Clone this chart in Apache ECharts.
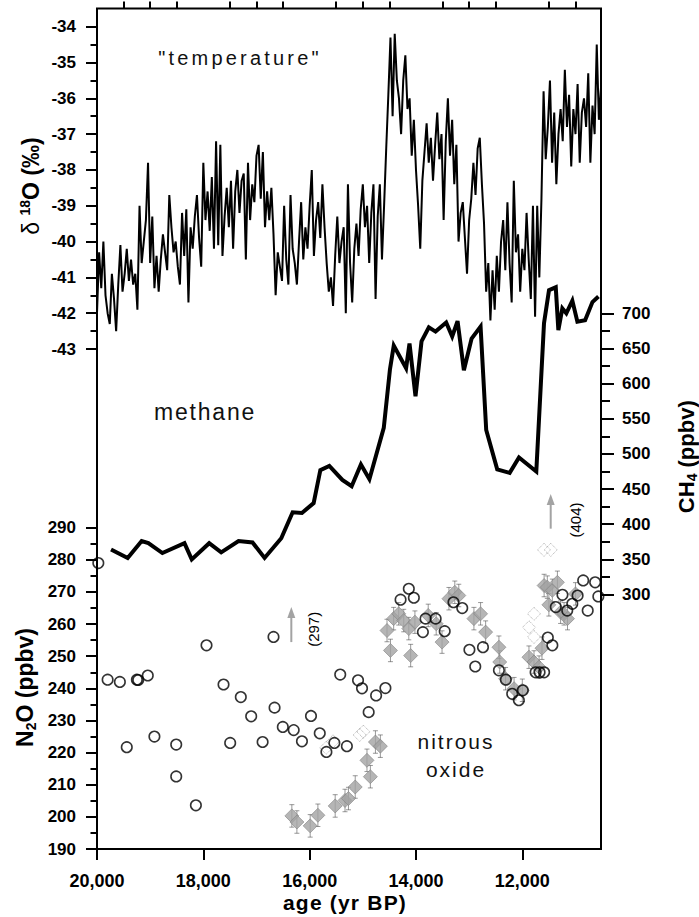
<!DOCTYPE html>
<html><head><meta charset="utf-8">
<script src="https://cdn.jsdelivr.net/npm/echarts@6/dist/echarts.min.js"></script>
<style>
html,body{margin:0;padding:0;background:#fff;}
#c{width:699px;height:917px;}
svg text[style*="lsT"]{letter-spacing:3.2px;}
svg text[style*="lsM"]{letter-spacing:1.8px;}
svg text[style*="lsN"]{letter-spacing:2px;}
svg text[style*="lsA"]{letter-spacing:1.2px;}
</style></head><body><div id="c"></div><script>
// ---- axis ranges / ticks ----
const AGE_MIN = 10520, AGE_MAX = 20000;
const ageMajorTicks = [12000, 14000, 16000, 18000, 20000];
const ageMinorTicks = [11000, 11500, 12500, 13000, 13500, 14500, 15000, 15500, 16500, 17000, 17500, 18500, 19000, 19500];
const d18oTicks = [-43, -42, -41, -40, -39, -38, -37, -36, -35, -34];
const d18oMinor = [-42.5, -41.5, -40.5, -39.5, -38.5, -37.5, -36.5, -35.5, -34.5];
const ch4Ticks = [300, 350, 400, 450, 500, 550, 600, 650, 700];
const ch4Minor = [325, 375, 425, 475, 525, 575, 625, 675];
const n2oTicks = [190, 200, 210, 220, 230, 240, 250, 260, 270, 280, 290];
const n2oMinor = [195, 205, 215, 225, 235, 245, 255, 265, 275, 285];

// ---- delta 18O ("temperature") [age, permil] ----
const d18o = [
[20000,-42.0],[19960,-40.3],[19920,-41.3],[19880,-40.0],[19840,-41.5],[19800,-42.0],[19760,-42.3],[19720,-40.9],
[19680,-41.6],[19640,-42.5],[19600,-41.2],[19560,-40.1],[19520,-41.4],[19480,-40.9],[19440,-40.2],[19400,-41.1],
[19360,-40.5],[19320,-41.2],[19280,-40.9],[19240,-41.9],[19200,-39.0],[19160,-40.6],[19120,-40.0],[19080,-39.4],
[19040,-37.8],[19000,-40.6],[18960,-39.3],[18920,-41.3],[18880,-40.4],[18840,-41.4],[18800,-40.5],[18760,-39.8],
[18720,-40.3],[18680,-40.8],[18640,-38.7],[18600,-39.6],[18560,-40.3],[18520,-40.0],[18480,-40.7],[18440,-41.2],
[18400,-39.2],[18360,-40.4],[18320,-39.1],[18280,-41.7],[18240,-39.6],[18200,-40.2],[18160,-39.3],[18120,-38.7],
[18080,-39.9],[18040,-40.7],[18000,-37.8],[17960,-39.4],[17920,-38.6],[17880,-39.7],[17840,-38.2],[17800,-40.2],
[17760,-37.2],[17720,-40.1],[17680,-37.3],[17640,-40.4],[17600,-39.3],[17560,-38.5],[17520,-39.6],[17480,-38.3],
[17440,-40.2],[17400,-38.6],[17360,-38.0],[17320,-39.2],[17280,-38.3],[17240,-38.1],[17200,-40.5],[17160,-37.8],
[17120,-39.4],[17080,-38.4],[17040,-38.9],[17000,-37.6],[16960,-37.3],[16920,-38.8],[16880,-37.5],[16840,-39.6],
[16800,-38.6],[16760,-39.4],[16720,-38.5],[16680,-39.8],[16640,-41.5],[16600,-40.3],[16560,-40.7],[16520,-41.1],
[16480,-39.0],[16440,-40.5],[16400,-41.2],[16360,-38.7],[16320,-40.2],[16280,-40.6],[16240,-41.2],[16200,-40.0],
[16160,-38.9],[16120,-40.5],[16080,-39.6],[16040,-40.2],[16000,-39.0],[15960,-38.0],[15920,-40.4],[15880,-39.4],
[15840,-38.9],[15800,-39.9],[15760,-38.4],[15720,-39.6],[15680,-40.6],[15640,-41.4],[15600,-41.0],[15560,-41.8],
[15520,-40.4],[15480,-39.3],[15440,-40.6],[15400,-40.0],[15360,-39.6],[15320,-42.0],[15280,-38.4],
[15240,-40.6],[15200,-41.7],[15160,-40.2],[15120,-39.5],[15080,-40.4],[15040,-39.1],[15000,-38.4],[14960,-39.6],
[14920,-39.0],[14880,-40.6],[14840,-39.2],[14800,-38.4],[14760,-41.6],[14720,-39.3],[14680,-38.4],[14640,-40.5],
[14600,-39.0],[14560,-37.4],[14520,-35.9],[14480,-34.3],[14440,-36.5],[14400,-34.2],[14360,-35.5],[14320,-36.0],
[14280,-37.0],[14240,-35.5],[14200,-34.8],[14160,-36.3],[14120,-36.0],[14080,-37.6],[14040,-36.6],[14000,-38.0],
[13960,-39.0],[13920,-40.2],[13880,-38.3],[13840,-37.5],[13800,-36.7],[13760,-37.8],[13720,-37.1],[13680,-38.3],
[13640,-37.3],[13600,-36.4],[13560,-37.7],[13520,-37.0],[13480,-39.4],[13440,-37.2],[13400,-36.0],[13360,-37.6],
[13320,-36.6],[13280,-38.4],[13240,-37.3],[13200,-40.0],[13160,-39.2],[13120,-38.9],[13080,-39.9],[13040,-40.9],
[13000,-39.4],[12960,-38.8],[12920,-37.8],[12880,-38.7],[12840,-37.4],[12800,-37.1],[12760,-38.4],[12720,-39.5],
[12680,-41.4],[12640,-40.6],[12600,-42.2],[12560,-40.8],[12520,-41.9],[12480,-40.4],[12440,-41.4],[12400,-40.0],
[12360,-39.4],[12320,-40.8],[12280,-38.9],[12240,-40.6],[12200,-41.7],[12160,-38.3],[12120,-40.3],[12080,-39.8],
[12040,-41.4],[12000,-40.2],[11960,-40.8],[11920,-39.2],[11880,-40.5],[11840,-41.6],[11800,-39.0],[11760,-42.1],
[11720,-39.0],[11680,-41.0],[11640,-38.8],[11600,-35.8],[11560,-37.7],[11520,-36.8],[11480,-35.5],[11440,-37.8],
[11400,-36.4],[11360,-38.4],[11320,-37.0],[11280,-36.3],[11240,-37.2],[11200,-35.2],[11160,-36.8],[11120,-35.9],
[11080,-37.9],[11040,-36.3],[11000,-37.0],[10960,-35.6],[10920,-37.8],[10880,-36.4],[10840,-36.0],[10800,-36.8],
[10760,-35.3],[10720,-37.8],[10680,-36.2],[10640,-37.0],[10600,-34.5],[10560,-36.6],[10520,-35.7]
];

// ---- methane [age, ppbv] ----
const ch4 = [
[19736,364],[19423,352],[19160,376],[19034,373],[18770,359],[18355,373],[18218,350],[17890,373],
[17664,360],[17338,376],[17074,374],[16848,352],[16534,380],[16320,417],[16145,416],[15925,430],
[15799,477],[15630,483],[15385,463],[15210,454],[15036,485],[14876,464],[14606,537],[14490,620],
[14418,654],[14186,622],[14122,657],[14009,582],[13896,660],[13758,680],[13632,674],[13432,687],
[13319,667],[13218,689],[13099,619],[12954,664],[12785,681],[12679,534],[12472,478],[12238,473],
[12063,495],[11737,475],[11592,686],[11498,733],[11371,737],[11322,676],[11247,707],[11172,700],
[11059,718],[10964,688],[10819,690],[10681,716],[10568,724]
];

// ---- nitrous oxide: open circles [age, ppbv] ----
const n2oCircles = [
[19975,279],[19800,242.7],[19570,242],[19440,221.7],[19250,242.7],[19225,242.6],[19045,244],[18920,225],
[18510,222.5],[18510,212.6],[18140,203.6],[17940,253.4],[17620,241.2],[17495,223],[17295,237.3],[17100,231.3],
[16885,223.3],[16680,256],[16660,234],[16505,228],[16300,227],[16145,223.5],[15975,231.4],[15810,226],
[15685,220.2],[15535,223],[15425,244.3],[15300,222],[15090,242.5],[15015,240],[14890,232.6],[14750,237.8],
[14575,240.1],[14290,267.6],[14135,271],[14040,268.2],[13870,257.5],[13820,261.7],[13630,261.7],[13460,257.8],
[13295,266.8],[13130,265],[12995,252],[12885,246.8],[12740,252.8],[12440,245.6],[12310,242.7],[12190,238.3],
[12065,236.3],[11990,239.4],[11750,245],[11675,245],[11590,245],[11520,255.8],[11435,253.4],[11370,265.3],
[11245,269.1],[11155,264.2],[11060,266.3],[10960,268.9],[10855,273.6],[10770,264.2],[10630,273],[10570,268.6]
];

// ---- nitrous oxide: filled grey diamonds [age, ppbv] with +/- error ----
const n2oDiamonds = [
[16335,200.3],[16240,198.4],[15990,197.2],[15845,200.5],[15520,203.4],[15335,205.1],[15270,205.7],[15143,209.3],
[14922,217.6],[14858,212.5],[14763,223.3],[14670,222],[14545,258],[14480,251.8],[14420,261.7],[14325,263.2],
[14230,261.1],[14135,258.6],[14100,250.2],[14020,260.6],[13770,262.7],[13620,260.1],[13510,254.4],[13380,267.9],
[13270,269.9],[13195,268.9],[12910,261.7],[12785,263.2],[12690,257.5],[12440,252.8],[12425,248.2],[12315,243],
[12155,239.9],[12000,239.4],[11875,249.7],[11780,248.2],[11685,246.6],[11630,252.5],[11590,272],[11530,271.5],
[11500,266],[11435,270.5],[11340,273],[11280,263.7],[11215,263.2],[11150,261.7],[11000,269.4]
];
const diamondErr = 3.5;

// ---- nitrous oxide: open grey diamonds [age, ppbv] ----
const n2oOpen = [
[15690,221.5],[15560,223.5],[15060,225.5],[14990,226.5],[11874,259],[11780,263.2],[11780,256],[11592,283.1],[11466,283.1]
];

// ---- off-scale arrows [age, from, to] ----
const arrows = [[16345,254.4,265.3],[11466,289.7,300.5]];
const arrowTexts = ['(297)', '(404)'];

const FONT = 'Arial';
const tickStyle = {color:'#000', width:2};

function xAxisBase(grid){
  return {type:'value', gridIndex:grid, min:AGE_MIN, max:AGE_MAX, inverse:true,
          axisLine:{show:false}, splitLine:{show:false}, axisTick:{show:false}, axisLabel:{show:false}};
}
function yAxis(grid, min, max, pos, ticks, len, labels){
  return {type:'value', gridIndex:grid, min:min, max:max, position:pos,
    axisLine:{show:false}, splitLine:{show:false},
    axisTick:{show:true, customValues:ticks, length:len, lineStyle:tickStyle},
    axisLabel: labels ? {show:true, customValues:ticks, margin:21, color:'#000', fontWeight:'bold', fontSize:17, fontFamily:FONT}
                      : {show:false}};
}

const chart = echarts.init(document.getElementById('c'), null, {renderer:'svg'});

const xMain = xAxisBase(0);
xMain.axisTick = {show:true, customValues:ageMajorTicks, length:11, lineStyle:tickStyle};
xMain.axisLabel = {show:true, customValues:ageMajorTicks, margin:23, color:'#000', fontWeight:'bold', fontSize:18, fontFamily:FONT,
  formatter: v => v.toLocaleString('en-US')};
const xMinor = xAxisBase(0);
xMinor.axisTick = {show:true, customValues:ageMinorTicks, length:7, lineStyle:tickStyle};

function renderErr(params, api){
  const x = api.value(0), v = api.value(1);
  const p1 = api.coord([x, v + diamondErr]);
  const p0 = api.coord([x, v - diamondErr]);
  const cap = 2.5, st = {stroke:'rgba(60,60,60,0.75)', lineWidth:0.7};
  return {type:'group', children:[
    {type:'line', shape:{x1:p0[0],y1:p0[1],x2:p1[0],y2:p1[1]}, style:st},
    {type:'line', shape:{x1:p0[0]-cap,y1:p0[1],x2:p0[0]+cap,y2:p0[1]}, style:st},
    {type:'line', shape:{x1:p1[0]-cap,y1:p1[1],x2:p1[0]+cap,y2:p1[1]}, style:st}
  ]};
}
function renderArrow(params, api){
  const x = api.value(0);
  const p0 = api.coord([x, api.value(1)]);
  const p1 = api.coord([x, api.value(2)]);
  const headH = 11, headW = 8;
  const col = '#a3a3a3';
  return {type:'group', children:[
    {type:'line', shape:{x1:p0[0], y1:p0[1], x2:p1[0], y2:p1[1] + headH - 1}, style:{stroke:col, lineWidth:2}},
    {type:'polygon', shape:{points:[[p1[0], p1[1]], [p1[0] - headW/2, p1[1] + headH], [p1[0] + headW/2, p1[1] + headH]]}, style:{fill:col}}
  ]};
}

const option = {
  animation:false,
  backgroundColor:'#fff',
  grid:[
    {left:97, right:98, top:8.5, bottom:68, show:true, borderColor:'#000', borderWidth:2, backgroundColor:'transparent'},
    {left:97, right:98, top:8.8, bottom:568},
    {left:97, right:98, top:313.3, bottom:322.5},
    {left:97, right:98, top:527.7, bottom:68}
  ],
  xAxis:[xMain, xMinor, xAxisBase(1), xAxisBase(2), xAxisBase(3)],
  yAxis:[
    {type:'value', gridIndex:0, min:0, max:1, show:false},
    yAxis(1, -43, -33.5, 'left', d18oTicks, 11, true),
    yAxis(1, -43, -33.5, 'left', d18oMinor, 6.5, false),
    yAxis(2, 300, 700, 'right', ch4Ticks, 13, true),
    yAxis(2, 300, 700, 'right', ch4Minor, 9, false),
    yAxis(3, 190, 290, 'left', n2oTicks, 11, true),
    yAxis(3, 190, 290, 'left', n2oMinor, 6.5, false)
  ],
  series:[
    {type:'line', name:'d18O', xAxisIndex:2, yAxisIndex:1, data:d18o, showSymbol:false, symbol:'none',
     lineStyle:{color:'#000', width:2}, clip:false, silent:true},
    {type:'line', name:'CH4', xAxisIndex:3, yAxisIndex:3, data:ch4, showSymbol:false, symbol:'none',
     lineStyle:{color:'#000', width:4, join:'miter'}, clip:false, silent:true},
    {type:'scatter', name:'N2O diamonds', xAxisIndex:4, yAxisIndex:5, data:n2oDiamonds, symbol:'diamond', symbolSize:14,
     itemStyle:{color:'#a3a3a3', borderColor:'#858585', borderWidth:0.8}, clip:false, silent:true},
    {type:'custom', name:'N2O error', xAxisIndex:4, yAxisIndex:5, data:n2oDiamonds, renderItem:renderErr, clip:false, silent:true},
    {type:'scatter', name:'N2O open diamonds', xAxisIndex:4, yAxisIndex:5, data:n2oOpen, symbol:'diamond', symbolSize:13,
     itemStyle:{color:'rgba(0,0,0,0)', borderColor:'#9a9a9a', borderWidth:1, borderType:'dotted'}, clip:false, silent:true},
    {type:'scatter', name:'N2O circles', xAxisIndex:4, yAxisIndex:5, data:n2oCircles, symbol:'circle', symbolSize:10.5,
     itemStyle:{color:'rgba(0,0,0,0)', borderColor:'#000', borderWidth:1.6}, clip:false, silent:true},
    {type:'custom', name:'arrows', xAxisIndex:4, yAxisIndex:5, data:arrows, renderItem:renderArrow,
     encode:{x:0, y:[1,2]}, clip:false, silent:true}
  ],
  graphic:[
    {type:'text', x:240, y:57.5, silent:true, style:{text:'"temperature"', fontSize:20, fontFamily:'Liberation Sans, lsT', fill:'#111', align:'center', verticalAlign:'middle'}},
    {type:'text', x:205, y:411.5, silent:true, style:{text:'methane', fontSize:23, fontFamily:'Liberation Sans, lsM', fill:'#111', align:'center', verticalAlign:'middle'}},
    {type:'text', x:456, y:741.3, silent:true, style:{text:'nitrous', fontSize:21, fontFamily:'Liberation Sans, lsN', fill:'#111', align:'center', verticalAlign:'middle'}},
    {type:'text', x:456, y:769.7, silent:true, style:{text:'oxide', fontSize:21, fontFamily:'Liberation Sans, lsN', fill:'#111', align:'center', verticalAlign:'middle'}},
    {type:'text', x:345, y:902.5, silent:true, style:{text:'age (yr BP)', fontSize:21, fontWeight:'bold', fontFamily:'Liberation Sans, lsA', fill:'#000', align:'center', verticalAlign:'middle'}},
    {type:'text', x:313.3, y:629.3, rotation:Math.PI/2, silent:true, style:{text:arrowTexts[0], fontSize:15, fontFamily:FONT, fill:'#000', align:'center', verticalAlign:'middle'}},
    {type:'text', x:575, y:520, rotation:Math.PI/2, silent:true, style:{text:arrowTexts[1], fontSize:15, fontFamily:FONT, fill:'#000', align:'center', verticalAlign:'middle'}},
    {type:'text', x:31, y:186, rotation:Math.PI/2, silent:true, style:{
      text:'{d|δ }{s|18}{b|O (‰)}', align:'center', verticalAlign:'middle', fill:'#000', fontFamily:FONT,
      rich:{d:{fontSize:23, fontFamily:FONT, lineHeight:26}, s:{fontSize:14, fontWeight:'bold', fontFamily:FONT, verticalAlign:'top', lineHeight:14},
            b:{fontSize:23, fontWeight:'bold', fontFamily:FONT, lineHeight:26}}}},
    {type:'text', x:25, y:687.5, rotation:Math.PI/2, silent:true, style:{
      text:'{b|N}{s|2}{b|O (ppbv)}', align:'center', verticalAlign:'middle', fill:'#000', fontFamily:FONT,
      rich:{s:{fontSize:14, fontWeight:'bold', fontFamily:FONT, verticalAlign:'bottom', lineHeight:14},
            b:{fontSize:23, fontWeight:'bold', fontFamily:FONT, lineHeight:26}}}},
    {type:'text', x:686, y:456.7, rotation:Math.PI/2, silent:true, style:{
      text:'{b|CH}{s|4}{b| (ppbv)}', align:'center', verticalAlign:'middle', fill:'#000', fontFamily:FONT,
      rich:{s:{fontSize:14, fontWeight:'bold', fontFamily:FONT, verticalAlign:'bottom', lineHeight:14},
            b:{fontSize:22, fontWeight:'bold', fontFamily:FONT, lineHeight:26}}}}
  ]
};
chart.setOption(option);
</script></body></html>
